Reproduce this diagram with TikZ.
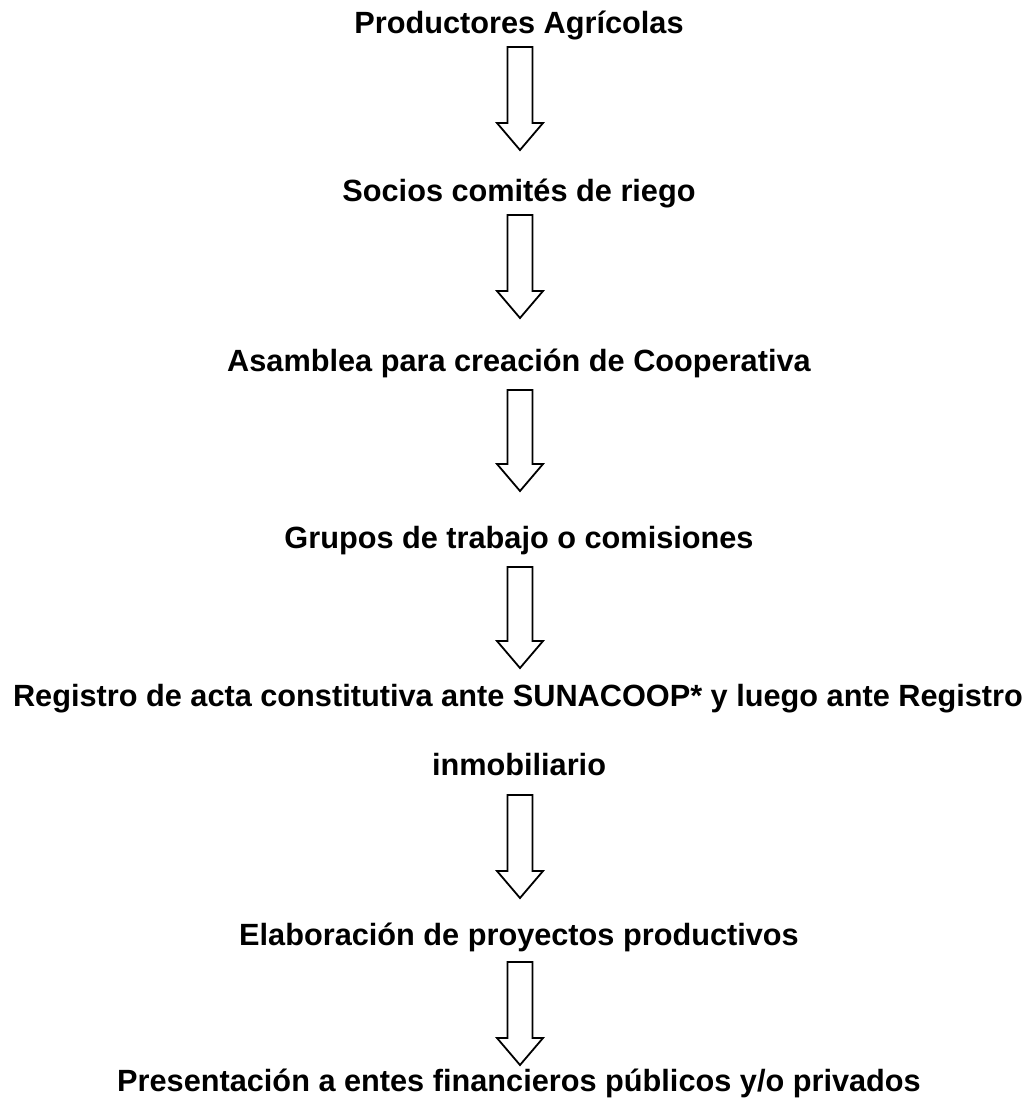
\documentclass[tikz,border=0pt]{standalone}
\usepackage{fontspec}
\setmainfont{Liberation Sans}
\begin{document}
\begin{tikzpicture}[x=1pt,y=-1pt,
  lbl/.style={anchor=base, inner sep=0pt, font=\fontsize{30.7}{36}\selectfont\bfseries},
  blockarr/.style={draw=black, line width=1.8pt, line join=miter, fill=white},
  pics/downarrow/.style={code={
    \draw[blockarr] (-12.5,0) -- (12.5,0) -- (12.5,#1-27) -- (23,#1-27) -- (0,#1) -- (-23,#1-27) -- (-12.5,#1-27) -- cycle;
  }}]
\useasboundingbox (0,0) rectangle (1035,1101);
\node[lbl] (t1) at (519,33) {Productores Agrícolas};
\node[lbl] (t2) at (519,201) {Socios comités de riego};
\node[lbl] (t3) at (519,371) {Asamblea para creación de Cooperativa};
\node[lbl] (t4) at (519,548) {Grupos de trabajo o comisiones};
\node[lbl] (t5) at (518,706) {Registro de acta constitutiva ante SUNACOOP* y luego ante Registro};
\node[lbl] (t5b) at (519,775) {inmobiliario};
\node[lbl] (t6) at (519,945) {Elaboración de proyectos productivos};
\node[lbl] (t7) at (519,1091) {Presentación a entes financieros públicos y/o privados};
\coordinate (a1) at (520,47);
\coordinate (a2) at (520,215);
\coordinate (a3) at (520,390);
\coordinate (a4) at (520,567);
\coordinate (a5) at (520,795);
\coordinate (a6) at (520,962);
\pic at (a1) {downarrow=103};
\pic at (a2) {downarrow=103};
\pic at (a3) {downarrow=101};
\pic at (a4) {downarrow=101};
\pic at (a5) {downarrow=103};
\pic at (a6) {downarrow=103};
\end{tikzpicture}
\end{document}
